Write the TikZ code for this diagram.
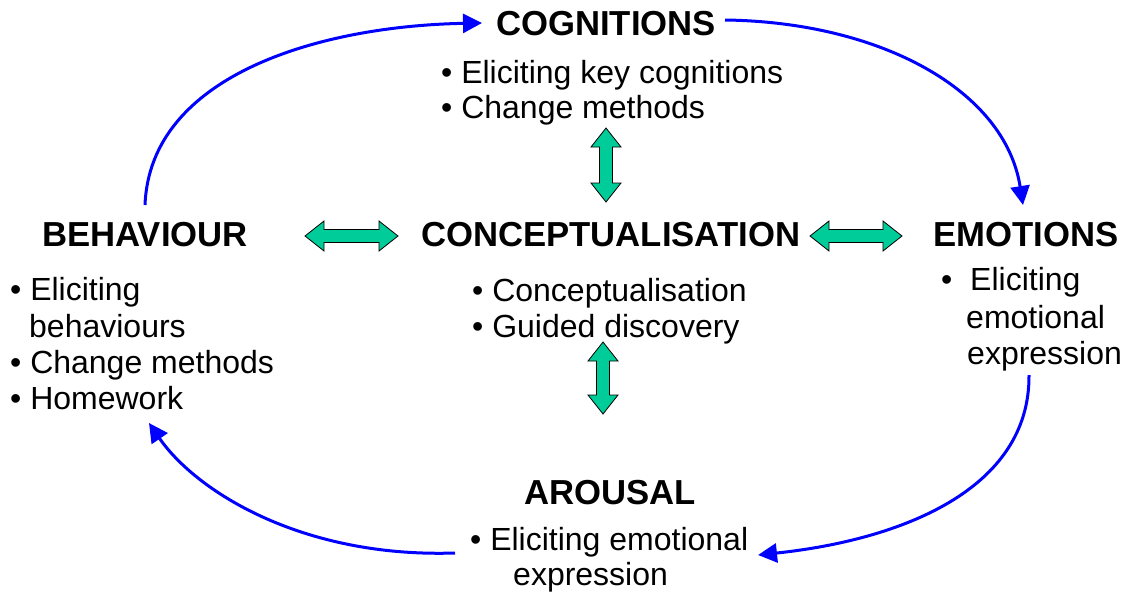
\documentclass[tikz,border=0pt]{standalone}
\usepackage{fontspec}
\setmainfont{Liberation Sans}
\usetikzlibrary{arrows.meta}
\definecolor{mint}{RGB}{0,204,153}
\definecolor{flowblue}{RGB}{0,0,255}
\tikzset{
  head/.style={font=\fontsize{34.7}{38}\selectfont\bfseries, inner sep=0pt, anchor=base west},
  item/.style={font=\fontsize{32}{36}\selectfont, inner sep=0pt, anchor=base west},
  flow/.style={draw=flowblue, line width=3pt, -{Triangle[length=19pt,width=19pt]}},
  dblstyle/.style={fill=mint, draw=black, line width=0.8pt, line join=miter},
  dbl/.pic={
    \path[dblstyle] (-#1,0) -- (-#1+19,-15) -- (-#1+19,-6.5) -- (#1-19,-6.5) -- (#1-19,-15)
      -- (#1,0) -- (#1-19,15) -- (#1-19,6.5) -- (-#1+19,6.5) -- (-#1+19,15) -- cycle;
  }
}
\begin{document}
\begin{tikzpicture}[x=1pt,y=-1pt]
\useasboundingbox (0,0) rectangle (1123,592);
% headings
\node[head] (cog) at (496,35) {COGNITIONS};
\node[head] (beh) at (42,246) {BEHAVIOUR};
\node[head] (con) at (421,246) {CONCEPTUALISATION};
\node[head] (emo) at (933,246) {EMOTIONS};
\node[head] (aro) at (524,504) {AROUSAL};
% cognitions items
\node[item] (cog1) at (441,83) {• Eliciting key cognitions};
\node[item] (cog2) at (441,118) {• Change methods};
% behaviour items
\node[item] (beh1) at (10,300) {• Eliciting};
\node[item] (beh2) at (29,337) {behaviours};
\node[item] (beh3) at (10,373) {• Change methods};
\node[item] (beh4) at (10,409) {• Homework};
% conceptualisation items
\node[item] (con1) at (472,301) {• Conceptualisation};
\node[item] (con2) at (472,337) {• Guided discovery};
% emotions items
\node[item] (emob) at (941,290) {•};
\node[item] (emo1) at (970,290) {Eliciting};
\node[item] (emo2) at (966,328) {emotional};
\node[item] (emo3) at (967,364) {expression};
% arousal items
\node[item] (aro1) at (470,550) {• Eliciting emotional};
\node[item] (aro2) at (513,585) {expression};
% double arrows
\pic at (351.5,236) {dbl=46.5};
\pic at (856,236) {dbl=46};
\pic[rotate=90] at (606,165) {dbl=37};
\pic[rotate=90] at (603,378) {dbl=36};
% cycle connectors
\coordinate (c1s) at (145,205);
\coordinate (c1e) at (482,23);
\coordinate (c2s) at (725,20);
\coordinate (c2e) at (1023,205);
\coordinate (c3s) at (1029,375);
\coordinate (c3e) at (758,555);
\coordinate (c4s) at (455,553);
\coordinate (c4e) at (149,423);
\draw[flow] (c1s) .. controls (150,75) and (320,26) .. (c1e);
\draw[flow] (c2s) .. controls (880,22) and (1005,90) .. (c2e);
\draw[flow] (c3s) .. controls (1030,490) and (900,540) .. (c3e);
\draw[flow] (c4s) .. controls (300,558) and (195,490) .. (c4e);
\end{tikzpicture}
\end{document}
